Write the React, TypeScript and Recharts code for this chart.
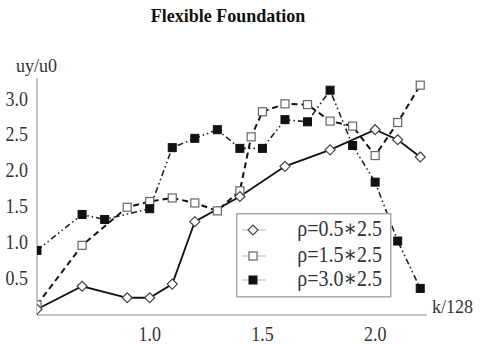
import React from "react";
import { LineChart, Line, XAxis, YAxis } from "recharts";

const s1X = [0.5, 0.7, 0.9, 1.0, 1.1, 1.2, 1.4, 1.6, 1.8, 2.0, 2.1, 2.2];
const s1Y = [0.08, 0.4, 0.24, 0.24, 0.43, 1.3, 1.65, 2.07, 2.3, 2.58, 2.44, 2.2];
const s2X = [0.5, 0.7, 0.9, 1.0, 1.1, 1.2, 1.3, 1.4, 1.45, 1.5, 1.6, 1.7, 1.8, 1.9, 2.0, 2.1, 2.2];
const s2Y = [0.14, 0.97, 1.5, 1.58, 1.63, 1.56, 1.45, 1.73, 2.48, 2.83, 2.94, 2.93, 2.7, 2.63, 2.22, 2.68, 3.2];
const s3X = [0.5, 0.7, 0.8, 1.0, 1.1, 1.2, 1.3, 1.4, 1.5, 1.6, 1.7, 1.8, 1.9, 2.0, 2.1, 2.2];
const s3Y = [0.9, 1.4, 1.33, 1.48, 2.33, 2.46, 2.58, 2.32, 2.32, 2.72, 2.69, 3.13, 2.36, 1.85, 1.03, 0.37];

const xTicks = [1.0, 1.5, 2.0];
const yTicks = [0.5, 1.0, 1.5, 2.0, 2.5, 3.0];
const seriesNames = ["ρ=0.5∗2.5", "ρ=1.5∗2.5", "ρ=3.0∗2.5"];

const toPts = (xs: number[], ys: number[]) => xs.map((x, i) => ({ x, y: ys[i] }));
const d1 = toPts(s1X, s1Y);
const d2 = toPts(s2X, s2Y);
const d3 = toPts(s3X, s3Y);

const FONT = "Liberation Serif, DejaVu Serif, serif";

const Diamond = (p: any) => {
  const { cx, cy } = p;
  if (cx == null || cy == null) return <g key={p.key} />;
  const r = 5;
  return (
    <path
      key={p.key}
      d={`M${cx},${cy - r} L${cx + r},${cy} L${cx},${cy + r} L${cx - r},${cy} Z`}
      fill="#fff"
      stroke="#444"
      strokeWidth={1.2}
    />
  );
};
const OpenSq = (p: any) => {
  const { cx, cy } = p;
  if (cx == null || cy == null) return <g key={p.key} />;
  const r = 4;
  return <rect key={p.key} x={cx - r} y={cy - r} width={2 * r} height={2 * r} fill="#fff" stroke="#666" strokeWidth={1.2} />;
};
const FilledSq = (p: any) => {
  const { cx, cy } = p;
  if (cx == null || cy == null) return <g key={p.key} />;
  const r = 4;
  return <rect key={p.key} x={cx - r} y={cy - r} width={2 * r} height={2 * r} fill="#111" stroke="#111" strokeWidth={1} />;
};

const XTick = (p: any) => {
  const { x, y, payload } = p;
  return (
    <text
      transform={`translate(${x},${y + 18}) scale(1,1.15)`}
      textAnchor="middle"
      fontFamily={FONT}
      fontSize={18}
      fill="#333"
    >
      {Number(payload.value).toFixed(1)}
    </text>
  );
};
const YTick = (p: any) => {
  const { x, y, payload } = p;
  return (
    <text
      transform={`translate(${x - 1},${y + 6}) scale(1,1.2)`}
      textAnchor="end"
      fontFamily={FONT}
      fontSize={18}
      fill="#333"
    >
      {Number(payload.value).toFixed(1)}
    </text>
  );
};

const LegendBox = () => {
  const rows = [17, 43, 67];
  return (
    <svg width={156} height={85} style={{ display: "block" }}>
      <rect x={0.75} y={0.75} width={154} height={83} fill="#fff" stroke="#aaa" strokeWidth={1.5} />
      {rows.map((ry, i) => (
        <g key={i}>
          <line x1={6} x2={30} y1={ry} y2={ry} stroke="#bbb" strokeWidth={1} />
          {i === 0 && <Diamond cx={17} cy={ry} key="m" />}
          {i === 1 && <OpenSq cx={17} cy={ry} key="m" />}
          {i === 2 && <FilledSq cx={17} cy={ry} key="m" />}
          <text
            transform={`translate(146,${ry + 6}) scale(1,1.15)`}
            textAnchor="end"
            fontFamily={FONT}
            fontSize={20}
            fill="#333"
          >
            {seriesNames[i]}
          </text>
        </g>
      ))}
    </svg>
  );
};

export default function App() {
  return (
    <div style={{ position: "absolute", left: 0, top: 0, width: 482, height: 344, background: "#fff" }}>
      <div
        style={{
          position: "absolute",
          left: 0,
          width: 456,
          top: 6,
          textAlign: "center",
          fontFamily: FONT,
          fontWeight: "bold",
          fontSize: 18,
          color: "#111",
        }}
      >
        Flexible Foundation
      </div>
      <div style={{ position: "absolute", left: 16, top: 56, fontFamily: FONT, fontSize: 18, color: "#333" }}>uy/u0</div>
      <div style={{ position: "absolute", left: 432, top: 297, fontFamily: FONT, fontSize: 18, color: "#333" }}>k/128</div>
      <LineChart
        width={482}
        height={344}
        margin={{ top: 78, right: 55, bottom: 0, left: 0 }}
        style={{ position: "absolute", left: 0, top: 0 }}
      >
        <XAxis
          type="number"
          dataKey="x"
          domain={[0.5, 2.23]}
          ticks={xTicks}
          interval={0}
          height={29}
          stroke="#888"
          tickLine={false}
          tick={XTick}
          allowDataOverflow
        />
        <YAxis
          type="number"
          dataKey="y"
          domain={[0, 3.3]}
          ticks={yTicks}
          interval={0}
          width={37}
          stroke="#888"
          tickLine={false}
          tick={YTick}
          allowDataOverflow
        />
        <Line
          data={d2}
          dataKey="y"
          name={seriesNames[1]}
          stroke="#111"
          strokeWidth={2}
          strokeDasharray="6 4"
          dot={OpenSq}
          activeDot={false}
          isAnimationActive={false}
        />
        <Line
          data={d3}
          dataKey="y"
          name={seriesNames[2]}
          stroke="#222"
          strokeWidth={1.6}
          strokeDasharray="6 3 1.5 3 1.5 3"
          dot={FilledSq}
          activeDot={false}
          isAnimationActive={false}
        />
        <Line
          data={d1}
          dataKey="y"
          name={seriesNames[0]}
          stroke="#111"
          strokeWidth={1.8}
          dot={Diamond}
          activeDot={false}
          isAnimationActive={false}
        />
      </LineChart>
      <div style={{ position: "absolute", left: 236, top: 213, width: 156, height: 85 }}>
        <LegendBox />
      </div>
    </div>
  );
}
